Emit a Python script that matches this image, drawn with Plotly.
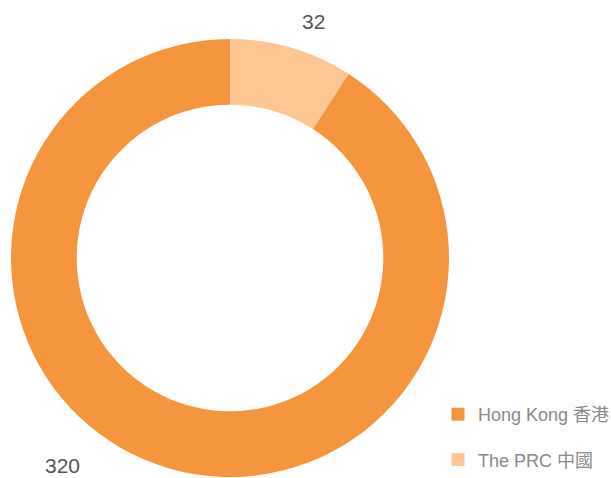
import plotly.graph_objects as go

labels = ["Hong Kong 香港", "The PRC 中國"]
values = [320, 32]
colors = ["#F5963F", "#FEC693"]

W, H, OFF = 611, 478, 0


def px(x):
    return (x - OFF) / W


def py(y):
    return 1 - (y - OFF) / H


cx, cy, r = 230, 258, 219

fig = go.Figure()
fig.add_trace(go.Pie(
    labels=labels, values=values, hole=0.70, sort=False,
    direction="clockwise", rotation=values[1] / sum(values) * 360,
    marker=dict(colors=colors, line=dict(width=0)),
    textinfo="none", showlegend=False,
    domain=dict(x=[px(cx - r), px(cx + r)], y=[py(cy + r), py(cy - r)]),
))
for i, (lab, col) in enumerate(zip(labels, colors)):
    fig.add_trace(go.Scatter(
        x=[None], y=[None], mode="markers", name=lab,
        marker=dict(symbol="square", size=13, color=col),
        legendgroup=f"g{i}", showlegend=True, hoverinfo="skip",
    ))

fig.add_annotation(x=px(313), y=py(22), xref="paper", yref="paper",
                   xanchor="center", yanchor="middle",
                   text=str(values[1]), showarrow=False,
                   font=dict(size=21, color="#555555", family="Liberation Sans"))
fig.add_annotation(x=px(62), y=py(465), xref="paper", yref="paper",
                   xanchor="center", yanchor="middle",
                   text=str(values[0]), showarrow=False,
                   font=dict(size=21, color="#555555", family="Liberation Sans"))

fig.update_layout(
    width=W, height=H,
    margin=dict(l=0, r=0, t=0, b=0, autoexpand=False),
    paper_bgcolor="white", plot_bgcolor="white",
    xaxis=dict(visible=False), yaxis=dict(visible=False),
    legend=dict(x=px(438), y=py(478), xanchor="left", yanchor="bottom",
                tracegroupgap=19, traceorder="grouped",
                font=dict(size=18, color="#8a8a8a",
                          family="Liberation Sans, Noto Sans CJK TC")),
)
fig.write_html(
    "out.html",
    config={"displayModeBar": False},
    post_script="document.body.style.margin='0';document.body.style.overflow='hidden';",
)
